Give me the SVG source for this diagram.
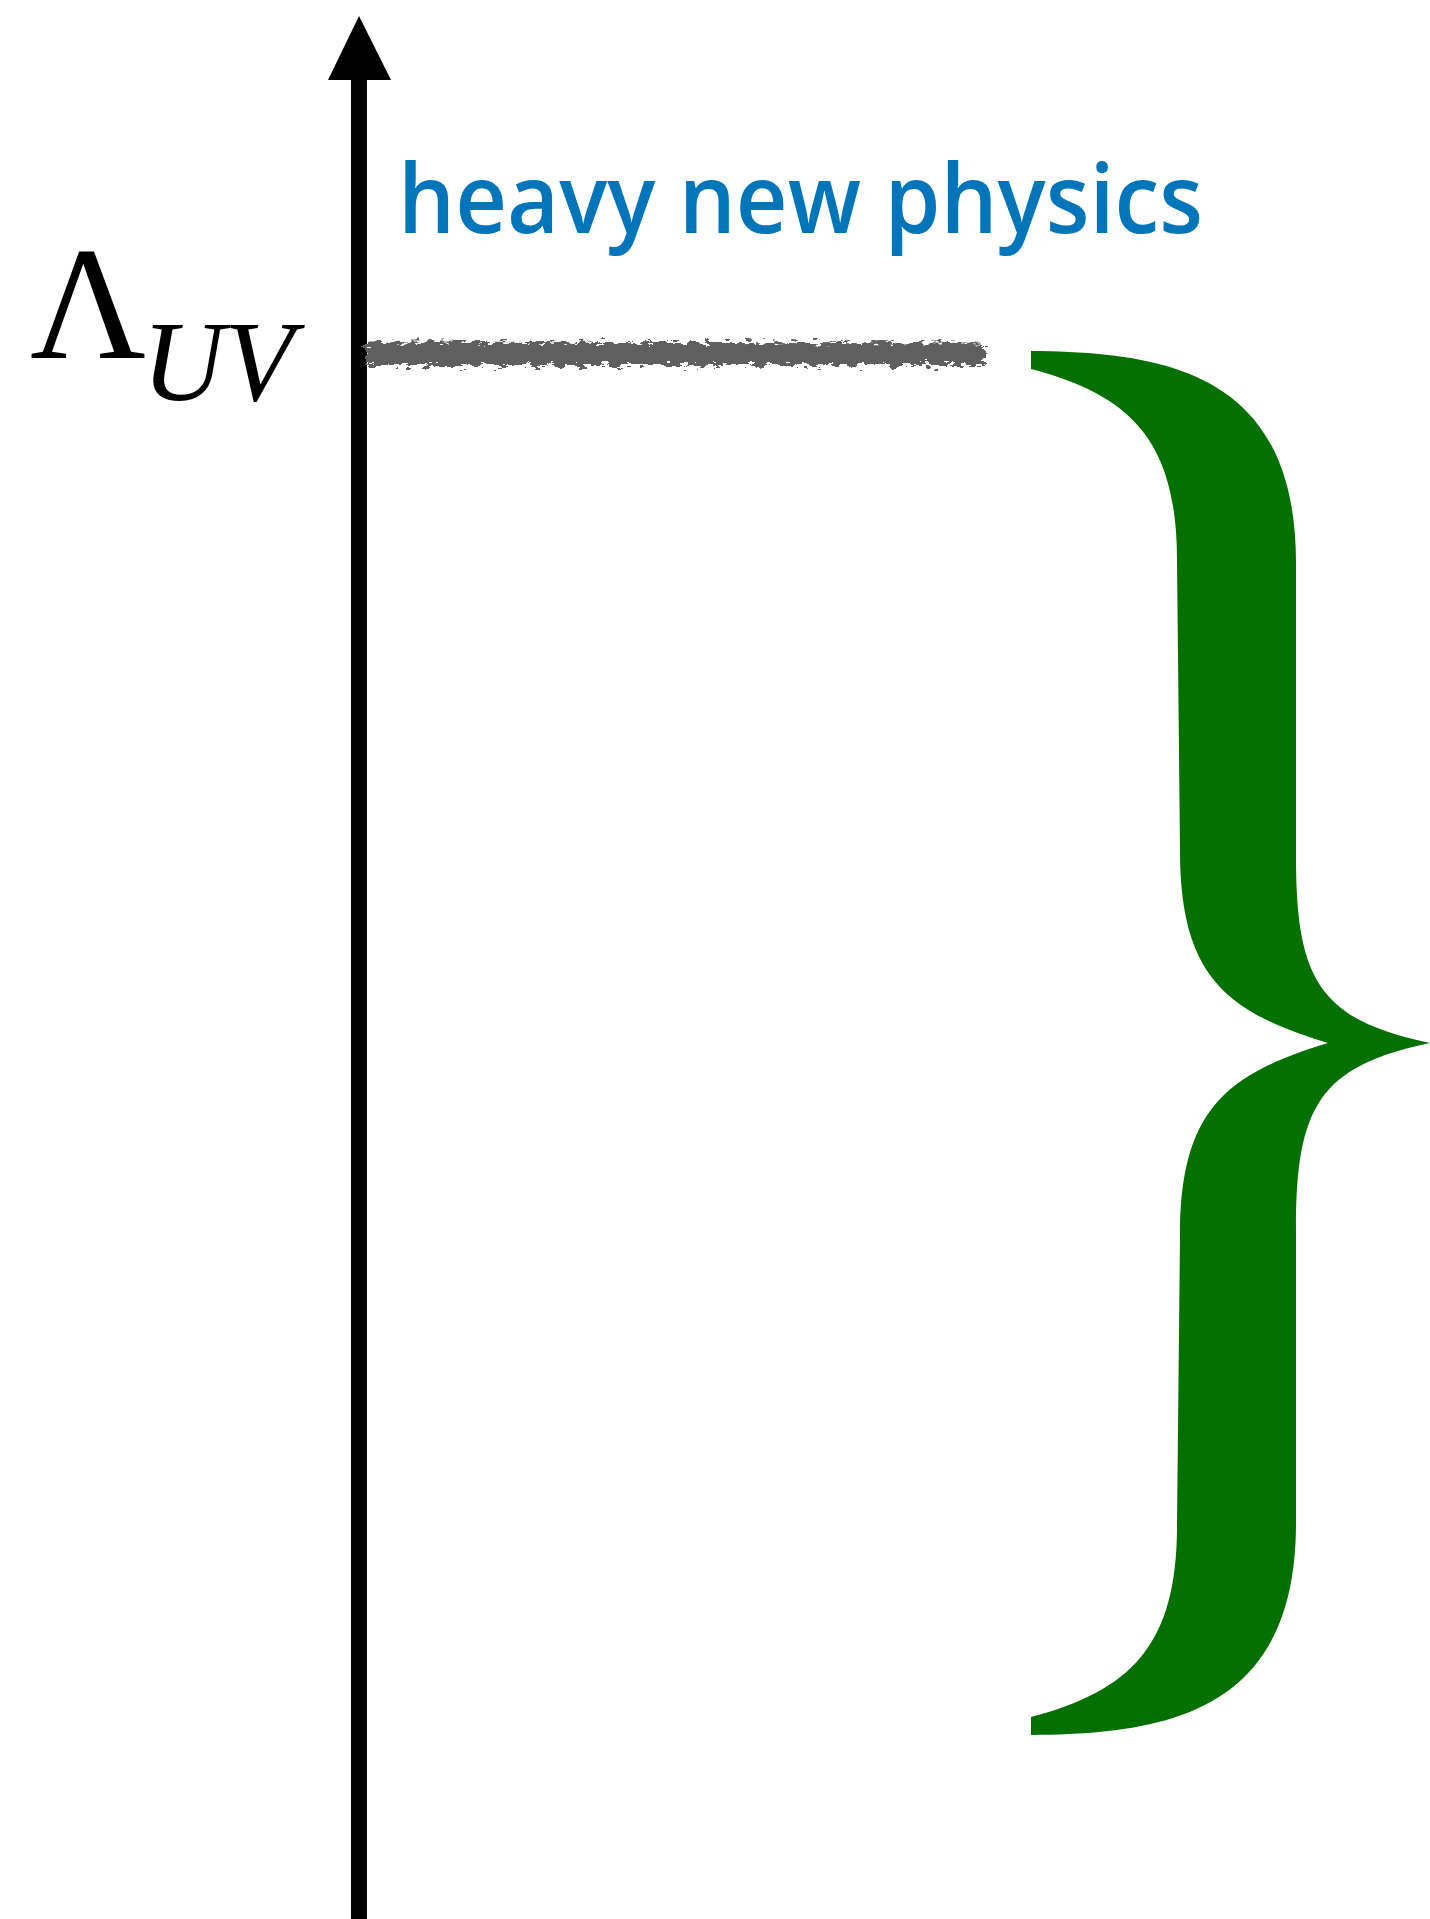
<svg xmlns="http://www.w3.org/2000/svg" width="1430" height="1919" viewBox="0 0 1430 1919">
  <style>
    .serif { font-family: "Liberation Serif", "Times New Roman", serif; fill: #000; }
    .label { font-family: "Open Sans", "Noto Sans", sans-serif; font-weight: 600; fill: #0075BA; }
    .brace { fill: #037000; }
    .axis { stroke: #000; stroke-width: 16; }
    .fuzz { stroke: #5f5f5f; fill: none; }
  </style>
  <defs>
    <filter id="rough" x="-5%" y="-200%" width="110%" height="500%">
      <feTurbulence type="fractalNoise" baseFrequency="0.09 0.25" numOctaves="3" seed="7" result="noise"/>
      <feDisplacementMap in="SourceGraphic" in2="noise" scale="16" xChannelSelector="R" yChannelSelector="G"/>
    </filter>
  </defs>

  <g id="axis">
    <line class="axis" x1="359" y1="78" x2="359" y2="1919"/>
    <polygon points="359,16 328,80 391,80" fill="#000"/>
  </g>

  <g id="lambda-uv">
    <text class="serif" x="30" y="358" font-size="160">Λ</text>
    <text class="serif" x="142" y="400" font-size="114" font-style="italic">UV</text>
  </g>

  <g id="heavy-new-physics">
    <text class="label" x="398" y="233" font-size="96" textLength="805" lengthAdjust="spacingAndGlyphs">heavy new physics</text>
  </g>

  <g id="uv-scale-line" filter="url(#rough)">
    <line class="fuzz" x1="366" y1="354" x2="984" y2="354" stroke-width="20"/>
    <line class="fuzz" x1="368" y1="345" x2="982" y2="346" stroke-width="7" stroke-dasharray="14 5 30 4"/>
    <line class="fuzz" x1="368" y1="363" x2="982" y2="363" stroke-width="6" stroke-dasharray="20 6 9 5"/>
  </g>

  <g id="brace">
    <path class="brace" d="M1031,351 C1170,352 1296,375 1296,563 L1296,857 C1296,980 1320,1020 1430,1043 C1320,1066 1296,1106 1296,1229 L1296,1523 C1296,1711 1170,1734 1031,1735 L1031,1717 C1130,1691 1177,1646 1177,1526 L1180,1236 C1180,1111 1225,1074 1328,1043 C1225,1012 1180,975 1180,850 L1177,560 C1177,440 1130,395 1031,369 Z"/>
  </g>

  <g id="connectors"></g>
</svg>
